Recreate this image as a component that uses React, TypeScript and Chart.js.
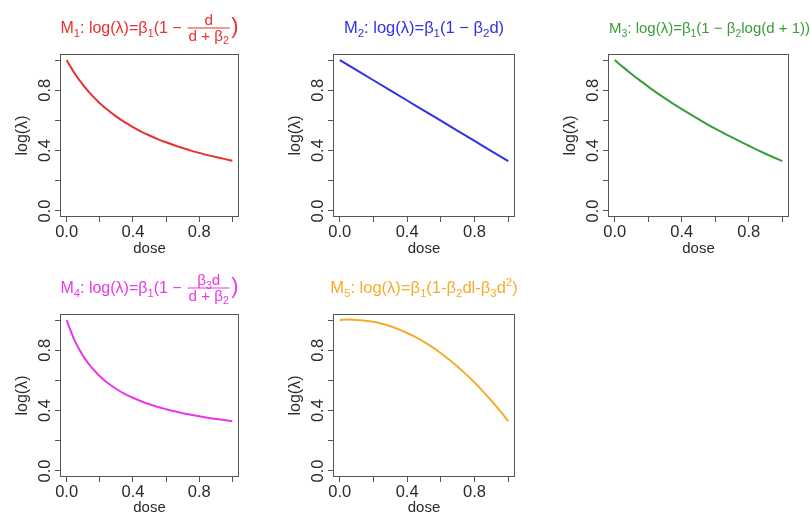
import React, { useEffect, useRef } from 'react';
import { Chart, registerables } from 'chart.js';

Chart.register(...registerables);

// ---------- data ----------
const doseFine = [0, 0.05, 0.1, 0.15, 0.2, 0.25, 0.3, 0.35, 0.4, 0.45, 0.5, 0.55, 0.6, 0.65, 0.7, 0.75, 0.8, 0.85, 0.9, 0.95, 1.0];
const doseCoarse = [0, 0.1, 0.2, 0.3, 0.4, 0.5, 0.6, 0.7, 0.8, 0.9, 1.0];

const m1Values = [1.0, 0.909, 0.833, 0.769, 0.714, 0.667, 0.625, 0.588, 0.556, 0.526, 0.5, 0.476, 0.455, 0.435, 0.417, 0.4, 0.385, 0.37, 0.357, 0.345, 0.333];
const m2Values = [1.0, 0.933, 0.866, 0.799, 0.732, 0.665, 0.598, 0.531, 0.464, 0.397, 0.33];
const m3Values = [1.0, 0.953, 0.908, 0.865, 0.824, 0.784, 0.746, 0.71, 0.675, 0.641, 0.608, 0.576, 0.545, 0.516, 0.487, 0.459, 0.432, 0.405, 0.379, 0.354, 0.33];
const m4Values = [1.0, 0.86, 0.761, 0.686, 0.628, 0.581, 0.543, 0.511, 0.485, 0.462, 0.442, 0.424, 0.409, 0.395, 0.383, 0.372, 0.362, 0.353, 0.345, 0.337, 0.33];
const m5Values = [1.0, 1.003, 1.001, 0.996, 0.988, 0.975, 0.959, 0.938, 0.914, 0.887, 0.855, 0.82, 0.78, 0.737, 0.691, 0.64, 0.586, 0.527, 0.465, 0.4, 0.33];

const tickValues = [0, 0.2, 0.4, 0.6, 0.8, 1.0];
const tickLabels = ['0.0', '', '0.4', '', '0.8', ''];
const xAxisLabel = 'dose';
const yAxisLabel = 'log(λ)';

type Seg = { t?: string; sub?: boolean; sup?: boolean; big?: boolean; num?: Seg[]; den?: Seg[] };

const title1: Seg[] = [
  { t: 'M' }, { t: '1', sub: true }, { t: ': log(λ)=β' }, { t: '1', sub: true }, { t: '(1 − ' },
  { num: [{ t: 'd' }], den: [{ t: 'd + β' }, { t: '2', sub: true }] }, { t: ')', big: true },
];
const title2: Seg[] = [
  { t: 'M' }, { t: '2', sub: true }, { t: ': log(λ)=β' }, { t: '1', sub: true }, { t: '(1 − β' }, { t: '2', sub: true }, { t: 'd)' },
];
const title3: Seg[] = [
  { t: 'M' }, { t: '3', sub: true }, { t: ': log(λ)=β' }, { t: '1', sub: true }, { t: '(1 − β' }, { t: '2', sub: true }, { t: 'log(d + 1))' },
];
const title4: Seg[] = [
  { t: 'M' }, { t: '4', sub: true }, { t: ': log(λ)=β' }, { t: '1', sub: true }, { t: '(1 − ' },
  { num: [{ t: 'β' }, { t: '3', sub: true }, { t: 'd' }], den: [{ t: 'd + β' }, { t: '2', sub: true }] }, { t: ')', big: true },
];
const title5: Seg[] = [
  { t: 'M' }, { t: '5', sub: true }, { t: ': log(λ)=β' }, { t: '1', sub: true }, { t: '(1-β' }, { t: '2', sub: true },
  { t: 'dl-β' }, { t: '3', sub: true }, { t: 'd' }, { t: '2', sup: true }, { t: ')' },
];

const FAMILY = "'Liberation Sans', Arial, sans-serif";
Chart.defaults.font.family = FAMILY;

const TEXT_COLOR = '#2a2a2a';
const AXIS_COLOR = '#555555';
const TICK_FONT = 16.5;
const XLABEL_FONT = 15;
const YLABEL_FONT = 16;
const FR = 0.95;

function fontStr(size: number) {
  return `${size}px ${FAMILY}`;
}
function segSize(s: Seg, size: number) {
  if (s.sub || s.sup) return size * 0.7;
  if (s.big) return size * 1.35;
  return size;
}
function measureSeg(ctx: CanvasRenderingContext2D, s: Seg, size: number): number {
  if (s.num && s.den) {
    return Math.max(measureRun(ctx, s.num, size * FR), measureRun(ctx, s.den, size * FR)) + size * 0.3;
  }
  ctx.font = fontStr(segSize(s, size));
  return ctx.measureText(s.t || '').width;
}
function measureRun(ctx: CanvasRenderingContext2D, segs: Seg[], size: number): number {
  let w = 0;
  for (const s of segs) w += measureSeg(ctx, s, size);
  return w;
}
function drawRun(ctx: CanvasRenderingContext2D, segs: Seg[], x: number, y: number, size: number) {
  for (const s of segs) {
    const w = measureSeg(ctx, s, size);
    if (s.num && s.den) {
      const bar = y - size * 0.33;
      const inner = size * FR;
      const nw = measureRun(ctx, s.num, inner);
      const dw = measureRun(ctx, s.den, inner);
      drawRun(ctx, s.num, x + (w - nw) / 2, bar - size * 0.18, inner);
      drawRun(ctx, s.den, x + (w - dw) / 2, bar + size * 0.8, inner);
      ctx.fillRect(x + size * 0.1, Math.round(bar) - 0.5, w - size * 0.2, 1);
    } else {
      const dy = s.sub ? size * 0.25 : s.sup ? -size * 0.4 : 0;
      ctx.font = fontStr(segSize(s, size));
      ctx.fillText(s.t || '', x, y + dy);
    }
    x += w;
  }
}

type PanelProps = {
  left: number; top: number; width: number; height: number;
  boxLeft: number; boxTop: number; boxRight: number; boxBottom: number;
  xs: number[]; ys: number[]; color: string; title: Seg[]; titleSize: number; titleShift?: number;
};

function Panel(p: PanelProps) {
  const ref = useRef<HTMLCanvasElement | null>(null);
  useEffect(() => {
    const canvas = ref.current;
    if (!canvas) return;
    const yAxisWidth = p.boxLeft - p.left;
    const xAxisHeight = p.top + p.height - p.boxBottom;
    const padTop = p.boxTop - p.top;
    const padRight = p.left + p.width - p.boxRight;
    const lh = YLABEL_FONT * 1.2;

    const decor = {
      id: 'decor',
      afterDraw(chart: any) {
        const ctx: CanvasRenderingContext2D = chart.ctx;
        const a = chart.chartArea;
        ctx.save();
        // box
        ctx.strokeStyle = AXIS_COLOR;
        ctx.lineWidth = 1;
        ctx.strokeRect(Math.round(a.left) + 0.5, Math.round(a.top) + 0.5, Math.round(a.right - a.left) - 1, Math.round(a.bottom - a.top) - 1);
        // rotated y tick labels
        ctx.fillStyle = TEXT_COLOR;
        ctx.font = fontStr(TICK_FONT);
        ctx.textAlign = 'center';
        ctx.textBaseline = 'middle';
        const ys = chart.scales.y;
        tickValues.forEach((v, i) => {
          if (!tickLabels[i]) return;
          const py = ys.getPixelForValue(v);
          ctx.save();
          ctx.translate(a.left - 15, py);
          ctx.rotate(-Math.PI / 2);
          ctx.fillText(tickLabels[i], 0, 0);
          ctx.restore();
        });
        // title
        ctx.fillStyle = p.color;
        ctx.textAlign = 'left';
        ctx.textBaseline = 'alphabetic';
        const tw = measureRun(ctx, p.title, p.titleSize);
        const cx = (a.left + a.right) / 2 + (p.titleShift || 0);
        drawRun(ctx, p.title, cx - tw / 2, a.top - 21, p.titleSize);
        ctx.restore();
      },
    };

    const gridOpts = {
      display: true,
      drawOnChartArea: false,
      drawTicks: true,
      tickLength: 5,
      color: AXIS_COLOR,
      lineWidth: 1,
    };

    const chart = new Chart(canvas, {
      type: 'line',
      data: {
        datasets: [
          {
            data: p.xs.map((x, i) => ({ x, y: p.ys[i] })),
            borderColor: p.color,
            borderWidth: 2,
            pointRadius: 0,
            fill: false,
            cubicInterpolationMode: 'monotone',
          },
        ],
      },
      options: {
        animation: false,
        responsive: false,
        maintainAspectRatio: false,
        devicePixelRatio: 1,
        layout: { padding: { left: 0, top: padTop, right: padRight, bottom: 0 } },
        plugins: { legend: { display: false }, title: { display: false }, tooltip: { enabled: false } },
        scales: {
          x: {
            type: 'linear',
            min: -0.04,
            max: 1.04,
            afterBuildTicks: (s: any) => { s.ticks = tickValues.map((v) => ({ value: v })); },
            afterFit: (s: any) => { s.height = xAxisHeight; },
            grid: gridOpts,
            border: { display: false },
            ticks: {
              autoSkip: false,
              maxRotation: 0,
              minRotation: 0,
              padding: 1,
              color: TEXT_COLOR,
              font: { size: TICK_FONT },
              callback: (_v: any, i: number) => tickLabels[i],
            },
            title: {
              display: true,
              text: xAxisLabel,
              color: TEXT_COLOR,
              font: { size: XLABEL_FONT },
              padding: { top: 0, bottom: 0 },
            },
          },
          y: {
            type: 'linear',
            min: -0.04,
            max: 1.04,
            afterBuildTicks: (s: any) => { s.ticks = tickValues.map((v) => ({ value: v })); },
            afterFit: (s: any) => { s.width = yAxisWidth; },
            grid: gridOpts,
            border: { display: false },
            ticks: { display: false },
            title: {
              display: true,
              text: yAxisLabel,
              color: TEXT_COLOR,
              font: { size: YLABEL_FONT },
              padding: { top: yAxisWidth - 37 - lh / 2, bottom: 0 },
            },
          },
        },
      } as any,
      plugins: [decor],
    });
    return () => chart.destroy();
  }, []);
  return (
    <canvas
      ref={ref}
      width={p.width}
      height={p.height}
      style={{ position: 'absolute', left: p.left, top: p.top, width: p.width, height: p.height }}
    />
  );
}

export default function App() {
  return (
    <div style={{ position: 'absolute', left: 0, top: 0, width: 810, height: 517, background: '#ffffff', overflow: 'hidden' }}>
      <Panel left={0} top={0} width={265} height={258} boxLeft={60} boxTop={54} boxRight={239} boxBottom={217}
        xs={doseFine} ys={m1Values} color="#e83030" title={title1} titleSize={16} />
      <Panel left={270} top={0} width={268} height={258} boxLeft={333} boxTop={54} boxRight={515} boxBottom={217}
        xs={doseCoarse} ys={m2Values} color="#3030e6" title={title2} titleSize={16.5} />
      <Panel left={545} top={0} width={265} height={258} boxLeft={608} boxTop={54} boxRight={789} boxBottom={217}
        xs={doseFine} ys={m3Values} color="#3a9d3a" title={title3} titleSize={15} titleShift={11} />
      <Panel left={0} top={260} width={265} height={257} boxLeft={60} boxTop={314} boxRight={239} boxBottom={477}
        xs={doseFine} ys={m4Values} color="#e838e8" title={title4} titleSize={16} />
      <Panel left={270} top={260} width={268} height={257} boxLeft={333} boxTop={314} boxRight={515} boxBottom={477}
        xs={doseFine} ys={m5Values} color="#f4ad2a" title={title5} titleSize={16.5} />
    </div>
  );
}
